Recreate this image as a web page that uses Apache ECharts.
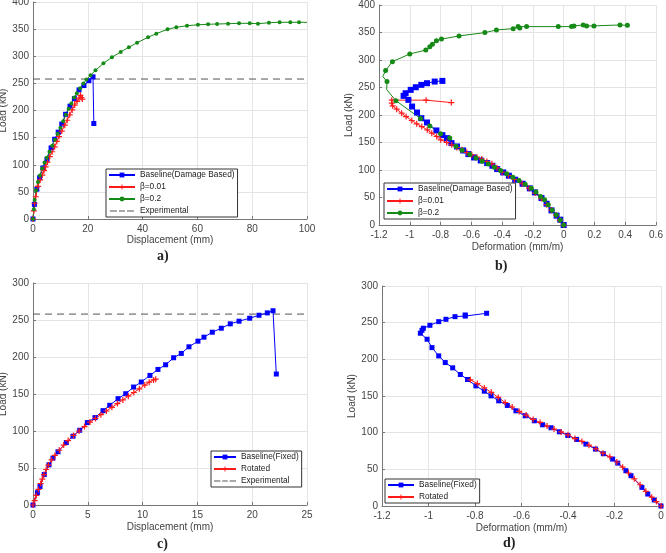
<!DOCTYPE html>
<html>
<head>
<meta charset="utf-8">
<script src="https://cdn.jsdelivr.net/npm/echarts@6/dist/echarts.min.js"></script>
<style>
html,body{margin:0;padding:0;background:#fff;}
#chart{width:666px;height:553px;}
</style>
</head>
<body>
<div id="chart"></div>
<script>
// a) load - displacement
var aBase = [[0,0],[0.5,27],[1.4,55],[2.4,76],[3.6,94],[5.1,110],[6.6,131],[7.9,147],[9.2,160],[10.5,175],[11.9,193],[13.5,208],[15.1,222],[16.8,238],[18.6,246],[20.4,255],[21.9,262],[22.2,176]];
var aRed = [[0,0],[0.3,15],[0.6,29],[1.0,41],[1.8,60],[2.6,72],[3.4,81],[4.0,89],[4.6,96],[5.3,105],[6.1,115],[7.0,124],[7.9,133],[8.7,143],[9.5,152],[10.5,162],[11.6,173],[12.5,182],[13.4,192],[14.3,201],[15.2,210],[16.1,217],[16.8,223],[17.3,228],[17.6,224],[18.0,221]];
var aGreen = [[0,0],[0.3,18],[0.6,35],[1.1,53],[1.8,68],[2.5,80],[3.3,93],[4.2,104],[5.0,113],[6.0,124],[7.0,135],[8.0,146],[9.0,157],[10.0,168],[11.0,180],[12.0,192],[13.0,203],[14.0,213],[15.0,224],[16.0,232],[17.2,241],[18.4,250],[19.5,257],[21.0,265],[22.8,274],[25.7,287],[28.8,298],[32.0,308],[35.0,316.5],[38.0,325],[42.0,335],[45.0,341.6],[49.1,349.7],[52.3,353.4],[56.2,356.3],[60.2,358],[63.9,359],[67.2,359.4],[71.2,360],[75.2,360.7],[79.1,360.7],[82.1,360],[86.1,361.8],[90.0,362.6],[93.9,362.6],[97.1,362.6],[100,362.5]];
var aExp = [[0,258],[100,258]];

// b) load - deformation
var bBase = [[0,0],[-0.022,9.7],[-0.046,17],[-0.079,26.6],[-0.111,38.7],[-0.144,49],[-0.187,59.3],[-0.22,66.6],[-0.267,75],[-0.315,82.3],[-0.356,89.6],[-0.393,95.6],[-0.432,101.7],[-0.463,107.7],[-0.497,112.6],[-0.539,117.4],[-0.582,122.8],[-0.619,128.9],[-0.653,135.5],[-0.693,142.8],[-0.729,148.9],[-0.758,157.9],[-0.788,163.4],[-0.827,171.9],[-0.888,186.4],[-0.925,194.2],[-0.953,204.5],[-0.985,215.4],[-1.009,227.5],[-1.04,234.8],[-1.027,239.6],[-0.994,245.7],[-0.961,250.5],[-0.925,254.8],[-0.888,257.8],[-0.838,260.8],[-0.788,262]];
var bRed = [[0,0],[-0.025,9],[-0.05,18],[-0.08,27],[-0.11,37],[-0.145,48],[-0.185,58],[-0.225,67],[-0.27,75],[-0.32,83],[-0.36,90],[-0.40,96],[-0.434,104],[-0.466,111.3],[-0.499,115.5],[-0.532,119.8],[-0.564,123.4],[-0.597,127.6],[-0.629,131.8],[-0.662,136.7],[-0.694,140.9],[-0.727,145.8],[-0.76,150],[-0.799,154.9],[-0.825,160.9],[-0.857,167],[-0.886,173],[-0.922,179],[-0.955,184],[-0.987,190],[-1.024,197.2],[-1.053,203.3],[-1.085,210.6],[-1.111,216.6],[-1.117,221.5],[-1.117,227],[-0.894,227],[-0.73,222.6]];
var bGreen = [[0,0],[-0.022,9],[-0.048,18],[-0.075,27],[-0.10,37],[-0.124,46],[-0.15,52],[-0.18,60],[-0.21,67],[-0.25,74],[-0.29,81],[-0.33,87],[-0.37,93],[-0.41,99],[-0.45,105],[-0.49,111],[-0.53,116],[-0.57,122],[-0.61,128],[-0.66,136],[-0.70,143],[-0.74,158],[-0.80,166],[-0.87,180],[-0.93,193.6],[-1.09,226],[-1.15,246],[-1.148,260.8],[-1.175,270],[-1.157,280.8],[-1.113,297],[-1.0,311],[-0.896,318],[-0.87,324],[-0.853,328.6],[-0.86,327],[-0.827,335],[-0.794,338],[-0.68,343.7],[-0.512,349.8],[-0.437,354.6],[-0.328,357],[-0.296,360.7],[-0.285,358],[-0.241,360.7],[-0.035,360.7],[0.051,360.7],[0.067,362],[0.127,363.7],[0.149,362],[0.197,362],[0.366,363.7],[0.414,363]];
var bGreenBare = [[-1.15,246],[-1.175,270],[-0.86,327]]; // vertices without a marker

// c) load - displacement, fixed vs rotated
var cBase = [[0,0],[0.4,16.6],[0.64,25.1],[1.03,41.3],[1.46,54.3],[1.82,63.3],[2.28,71.9],[3.04,84.4],[3.65,93],[4.26,101],[4.96,111.4],[5.66,118.1],[6.39,127.5],[7.0,134.7],[7.76,143.7],[8.46,150.4],[9.18,159.4],[9.88,166.2],[10.67,175.1],[11.4,183.2],[12.1,189.5],[12.83,199],[13.53,204.8],[14.23,213.8],[15.05,221.4],[15.6,226.8],[16.36,233.5],[17.18,238.9],[18.0,244.8],[18.8,248.4],[19.77,252.4],[20.62,256.4],[21.38,259.6],[21.9,262.5],[22.2,177]];
var cRot = [[0,0],[0.15,6],[0.3,13],[0.5,21],[0.7,29],[0.85,35],[1.0,41],[1.2,48],[1.4,54],[1.7,61],[2.0,67],[2.4,74],[2.8,81],[3.2,87],[3.7,94],[4.2,100],[4.7,106],[5.2,112],[5.7,117],[6.2,122],[6.7,127],[7.2,132],[7.7,137],[8.2,142],[8.7,147],[9.2,152],[9.7,157],[10.2,162],[10.6,166],[11.0,169],[11.2,170]];
var cExp = [[0,258],[25,258]];

// d) load - deformation, fixed vs rotated
var dBase = [[0,0],[-0.029,8.2],[-0.057,16.3],[-0.082,25.4],[-0.129,41.3],[-0.151,48.1],[-0.186,58.5],[-0.208,64],[-0.248,71.3],[-0.282,77.6],[-0.323,84.4],[-0.363,90.8],[-0.401,96.2],[-0.437,101.2],[-0.473,106.7],[-0.509,110.7],[-0.545,116.2],[-0.584,123],[-0.624,129.8],[-0.661,137.1],[-0.698,143.4],[-0.731,150.2],[-0.76,156.6],[-0.796,163.8],[-0.832,172.5],[-0.863,179.3],[-0.896,188.4],[-0.928,195.6],[-0.956,204.7],[-0.985,216],[-1.006,227.4],[-1.035,235.6],[-1.028,239.6],[-1.022,242.4],[-0.994,246.4],[-0.956,251.4],[-0.925,254.6],[-0.886,258.2],[-0.842,259],[-0.842,260.5],[-0.75,262.8]];
var dRot = [[0,0],[-0.02,6],[-0.04,12],[-0.065,20],[-0.09,29],[-0.115,37],[-0.14,45],[-0.165,53],[-0.19,60],[-0.22,67],[-0.25,72],[-0.28,78],[-0.31,83],[-0.34,88],[-0.37,92],[-0.40,97],[-0.43,101],[-0.46,105],[-0.49,109],[-0.52,114],[-0.55,118],[-0.58,124],[-0.61,129],[-0.64,135],[-0.67,141],[-0.70,148],[-0.73,155],[-0.76,161],[-0.79,167],[-0.82,172]];

var blue = '#0000ff', red = '#ff1a1a', green = '#168a16', gray = '#555555';
var plus = 'path://M4,0H6V4H10V6H6V10H4V6H0V4H4Z';
// dashed line for the legend; the two dots only fix the icon's box
var dashIcon = 'path://M0,0L0.01,0L0,0.01Z M0,6L0.01,6L0,5.99Z M0,2.5H7V3.5H0Z M9,2.5H15V3.5H9Z M17,2.5H24V3.5H17Z';
var font = 'Liberation Sans';

function mark(arr, bare) {
    // vertices listed in bare are drawn without a marker
    return arr.map(function (p) {
        var hit = (bare || []).some(function (q) { return q[0] === p[0] && q[1] === p[1]; });
        return hit ? {value: p, symbol: 'none'} : p;
    });
}

function xAx(idx, min, max, step, name, gap) {
    return {
        type: 'value', gridIndex: idx, min: min, max: max, interval: step,
        name: name, nameLocation: 'middle', nameGap: gap,
        nameTextStyle: {fontFamily: font, fontSize: 10, color: '#444'},
        axisLine: {show: true, onZero: false, lineStyle: {color: '#777', width: 1}},
        axisTick: {show: true, inside: true, length: 3, lineStyle: {color: '#777'}},
        axisLabel: {fontFamily: font, fontSize: 10, color: '#444', margin: 5},
        splitLine: {show: true, lineStyle: {color: '#e4e4e4', width: 1}}
    };
}
function yAx(idx, max, gap) {
    return {
        type: 'value', gridIndex: idx, min: 0, max: max, interval: 50,
        name: 'Load (kN)', nameLocation: 'middle', nameGap: gap,
        nameTextStyle: {fontFamily: font, fontSize: 10, color: '#444'},
        axisLine: {show: true, onZero: false, lineStyle: {color: '#777', width: 1}},
        axisTick: {show: true, inside: true, length: 3, lineStyle: {color: '#777'}},
        axisLabel: {fontFamily: font, fontSize: 10, color: '#444', margin: 4},
        splitLine: {show: true, lineStyle: {color: '#e4e4e4', width: 1}}
    };
}
function ser(name, idx, data, color, symbol, size) {
    return {
        name: name, type: 'line', xAxisIndex: idx, yAxisIndex: idx,
        data: data, symbol: symbol, symbolSize: size, showAllSymbol: true,
        color: color, lineStyle: {color: color, width: 1},
        itemStyle: {color: color}, animation: false
    };
}
function expSer(idx, data) {
    return {
        name: 'Experimental', type: 'line', xAxisIndex: idx, yAxisIndex: idx,
        data: data, symbol: 'none', color: gray,
        lineStyle: {color: gray, width: 1, type: [7, 5]}, animation: false
    };
}
function leg(left, top, names, w) {
    return {
        orient: 'vertical', left: left, top: top,
        data: names.map(function (n) {
            return n === 'Experimental' ? {name: n, icon: dashIcon} : n;
        }),
        itemWidth: w, itemHeight: 6, itemGap: 4, padding: [2, 3, 2, 2],
        borderColor: '#333', borderWidth: 1, backgroundColor: '#fff',
        textStyle: {fontFamily: font, fontSize: 8.3, color: '#222'},
        selectedMode: false
    };
}
function lbl(text, left, top) {
    return {text: text, left: left, top: top, padding: 0,
        textStyle: {fontFamily: 'Liberation Serif', fontSize: 14, fontWeight: 'bold', color: '#222'}};
}

var myChart = echarts.init(document.getElementById('chart'), null, {renderer: 'canvas'});
var option = {
    backgroundColor: '#fff',
    animation: false,
    title: [lbl('a)', 157, 249), lbl('b)', 495, 259), lbl('c)', 157, 537), lbl('d)', 503, 536)],
    grid: [
        {left: 33, top: 2, width: 274, height: 217, outerBoundsMode: 'none'},
        {left: 379, top: 5, width: 277, height: 220, outerBoundsMode: 'none'},
        {left: 33, top: 283, width: 274, height: 222, outerBoundsMode: 'none'},
        {left: 382, top: 286, width: 279, height: 220, outerBoundsMode: 'none'}
    ],
    xAxis: [
        xAx(0, 0, 100, 20, 'Displacement (mm)', 15),
        xAx(1, -1.2, 0.6, 0.2, 'Deformation (mm/m)', 17),
        xAx(2, 0, 25, 5, 'Displacement (mm)', 17),
        xAx(3, -1.2, 0, 0.2, 'Deformation (mm/m)', 17)
    ],
    yAxis: [yAx(0, 400, 22), yAx(1, 400, 23), yAx(2, 300, 22), yAx(3, 300, 23)],
    legend: [
        leg(106, 169, ['Baseline(Damage Based)', 'β=0.01', 'β=0.2', 'Experimental'], 26),
        leg(384, 183, ['Baseline(Damage Based)', 'β=0.01', 'β=0.2'], 26),
        leg(211, 451, ['Baseline(Fixed)', 'Rotated', 'Experimental'], 22),
        leg(385, 479, ['Baseline(Fixed)', 'Rotated'], 26)
    ],
    series: [
        expSer(0, aExp),
        ser('Baseline(Damage Based)', 0, aBase, blue, 'rect', 5),
        ser('β=0.01', 0, aRed, red, plus, 6),
        ser('β=0.2', 0, mark(aGreen, [[100, 362.5]]), green, 'circle', 4),
        ser('Baseline(Damage Based)', 1, bBase, blue, 'rect', 6),
        ser('β=0.01', 1, bRed, red, plus, 6),
        ser('β=0.2', 1, mark(bGreen, bGreenBare), green, 'circle', 5),
        expSer(2, cExp),
        ser('Baseline(Fixed)', 2, cBase, blue, 'rect', 5),
        ser('Rotated', 2, cRot, red, plus, 6),
        ser('Baseline(Fixed)', 3, dBase, blue, 'rect', 5),
        ser('Rotated', 3, dRot, red, plus, 6)
    ]
};
myChart.setOption(option);
</script>
</body>
</html>
